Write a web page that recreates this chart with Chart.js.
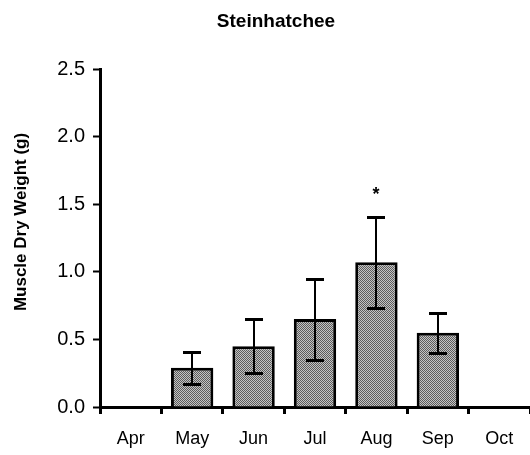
<!DOCTYPE html>
<html>
<head>
<meta charset="utf-8">
<script src="https://cdn.jsdelivr.net/npm/chart.js@4/dist/chart.umd.min.js"></script>
<style>
html,body{margin:0;padding:0;background:#fff;}
#wrap{width:530px;height:455px;position:relative;}
</style>
</head>
<body>
<div id="wrap"><canvas id="c"></canvas></div>
<script>
const months = ['Apr','May','Jun','Jul','Aug','Sep','Oct'];
const means = [null, 0.29, 0.45, 0.65, 1.07, 0.55, null];
const errs = [null, 0.12, 0.20, 0.30, 0.335, 0.147, null];
const marks = ['', '', '', '', '*', '', ''];
const yTicks = [0, 0.5, 1.0, 1.5, 2.0, 2.5];
const chartTitle = 'Steinhatchee';
const yTitle = 'Muscle Dry Weight (g)';

// halftone-like fill
const pc = document.createElement('canvas');
pc.width = 2; pc.height = 2;
const pctx = pc.getContext('2d');
pctx.fillStyle = '#c4c4c4'; pctx.fillRect(0,0,2,2);
pctx.fillStyle = '#5c5c5c'; pctx.fillRect(0,0,1,1); pctx.fillRect(1,1,1,1);
const pattern = pctx.createPattern(pc, 'repeat');

const FONT = "'Liberation Sans', Arial, sans-serif";

const errorBars = {
  id: 'errorBars',
  afterDatasetsDraw(chart) {
    const ctx = chart.ctx;
    const meta = chart.getDatasetMeta(0);
    const y = chart.scales.y;
    ctx.save();
    ctx.strokeStyle = '#000';
    meta.data.forEach((bar, i) => {
      if (means[i] == null) return;
      const x = Math.round(bar.x);
      const yt = Math.round(y.getPixelForValue(means[i] + errs[i]));
      const yb = Math.round(y.getPixelForValue(means[i] - errs[i]));
      ctx.lineWidth = 2;
      ctx.beginPath();
      ctx.moveTo(x, yt); ctx.lineTo(x, yb);
      ctx.stroke();
      ctx.lineWidth = 3;
      ctx.beginPath();
      ctx.moveTo(x - 9, yt + 0.5); ctx.lineTo(x + 9, yt + 0.5);
      ctx.moveTo(x - 9, yb + 0.5); ctx.lineTo(x + 9, yb + 0.5);
      ctx.stroke();
      if (marks[i]) {
        ctx.fillStyle = '#000';
        ctx.font = 'bold 18px ' + FONT;
        ctx.textAlign = 'center';
        ctx.textBaseline = 'middle';
        ctx.fillText(marks[i], x, yt - 22);
      }
    });
    ctx.restore();
  }
};

const textPlugin = {
  id: 'textPlugin',
  afterDraw(chart) {
    const ctx = chart.ctx;
    ctx.save();
    ctx.fillStyle = '#000';
    ctx.font = 'bold 19px ' + FONT;
    ctx.textAlign = 'center';
    ctx.textBaseline = 'middle';
    ctx.fillText(chartTitle, 276, 22);
    ctx.translate(21, 222);
    ctx.rotate(-Math.PI / 2);
    ctx.font = 'bold 17px ' + FONT;
    ctx.fillText(yTitle, 0, 0);
    ctx.restore();
  }
};

new Chart(document.getElementById('c'), {
  type: 'bar',
  data: {
    labels: months,
    datasets: [{
      data: means,
      backgroundColor: pattern,
      borderColor: '#000',
      borderWidth: 3,
      categoryPercentage: 1.0,
      barPercentage: 0.69
    }]
  },
  options: {
    responsive: true,
    maintainAspectRatio: false,
    animation: false,
    layout: { padding: { top: 69, right: 0, left: 0, bottom: 0 } },
    plugins: { legend: { display: false }, tooltip: { enabled: false }, title: { display: false } },
    scales: {
      x: {
        grid: { display: true, drawOnChartArea: false, drawTicks: true, tickLength: 7, tickColor: '#000', tickWidth: 3, offset: true },
        border: { display: true, color: '#000', width: 3 },
        ticks: { color: '#000', font: { family: FONT, size: 18 }, padding: 14, maxRotation: 0 },
        afterFit(s) { s.height = 48; }
      },
      y: {
        min: 0, max: 2.5,
        afterBuildTicks(s) { s.ticks = yTicks.map(v => ({ value: v })); },
        grid: { display: true, drawOnChartArea: false, drawTicks: true, tickLength: 7, tickColor: '#000', tickWidth: 2 },
        border: { display: true, color: '#000', width: 3 },
        ticks: { color: '#000', font: { family: FONT, size: 20 }, padding: 8, callback: v => Number(v).toFixed(1) },
        title: { display: false },
        afterFit(s) { s.width = 100; }
      }
    }
  },
  plugins: [errorBars, textPlugin]
});
</script>
</body>
</html>
